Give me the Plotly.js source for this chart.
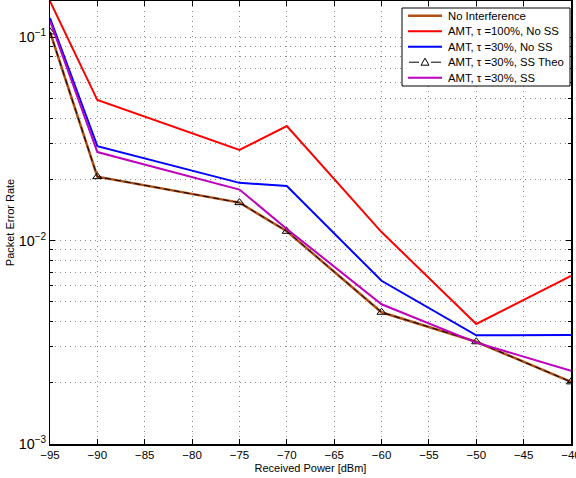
<!DOCTYPE html>
<html>
<head>
<meta charset="utf-8">
<script src="https://cdn.plot.ly/plotly-3.0.1.min.js"></script>
<style>html,body{margin:0;padding:0;background:#fff;}#chart{width:576px;height:478px;}</style>
</head>
<body>
<div id="chart"></div>
<script>
// Data
const power = [-95, -90, -75, -70, -60, -50, -40];
const noInterference = [0.106, 0.0206, 0.01535, 0.0111, 0.00444, 0.00318, 0.00202];
const amt100NoSS = [0.150, 0.049, 0.0279, 0.0365, 0.0110, 0.00389, 0.0067];
const amt30NoSS = [0.124, 0.0291, 0.0192, 0.01854, 0.00634, 0.00342, 0.00343];
const amt30SSTheo = [0.106, 0.0206, 0.01535, 0.0111, 0.00444, 0.00318, 0.00202];
const amt30SS = [0.120, 0.0272, 0.0178, 0.0114, 0.00486, 0.00315, 0.00229];
const seriesNames = ['No Interference', 'AMT, \u03c4 =100%, No SS', 'AMT, \u03c4 =30%, No SS', 'AMT, \u03c4 =30%, SS Theo', 'AMT, \u03c4 =30%, SS'];
const xTitle = 'Received Power [dBm]';
const yTitle = 'Packet Error Rate';

const colors = ['rgb(178,80,20)', 'rgb(255,0,0)', 'rgb(0,0,255)', 'black', 'rgb(190,0,190)'];
const widths = [2.5, 2, 2, 1, 2];

const traces = [
  {x: power, y: noInterference, name: seriesNames[0], mode: 'lines', line: {color: colors[0], width: widths[0]}},
  {x: power, y: amt100NoSS, name: seriesNames[1], mode: 'lines', line: {color: colors[1], width: widths[1]}},
  {x: power, y: amt30NoSS, name: seriesNames[2], mode: 'lines', line: {color: colors[2], width: widths[2]}},
  {x: power, y: amt30SSTheo, name: seriesNames[3], mode: 'lines+markers', line: {color: colors[3], width: widths[3], dash: '6px,4px'},
   marker: {symbol: 'triangle-up-open', size: 8, color: 'black', line: {width: 1}}},
  {x: power, y: amt30SS, name: seriesNames[4], mode: 'lines', line: {color: colors[4], width: widths[4]}}
];

// Custom legend (compact, like the reference)
const plotL = 50, plotR = 571, plotT = 1, plotB = 444;
const px = v => (v - plotL) / (plotR - plotL);
const py = v => (plotB - v) / (plotB - plotT);
const shapes = [];
const annotations = [];
shapes.push({type: 'rect', xref: 'paper', yref: 'paper', x0: px(402), x1: px(570), y0: py(86), y1: py(8),
  line: {color: 'black', width: 1}, fillcolor: 'white', layer: 'above'});
const rowY = [15.7, 31.2, 46.7, 62.2, 77.7];
seriesNames.forEach((nm, i) => {
  const yc = rowY[i];
  if (i === 3) {
    shapes.push({type: 'line', xref: 'paper', yref: 'paper', x0: px(409), x1: px(419), y0: py(yc), y1: py(yc),
      line: {color: 'black', width: 1}, layer: 'above'});
    shapes.push({type: 'line', xref: 'paper', yref: 'paper', x0: px(431), x1: px(441), y0: py(yc), y1: py(yc),
      line: {color: 'black', width: 1}, layer: 'above'});
    const path = 'M ' + px(421) + ' ' + py(yc + 3) + ' L ' + px(429) + ' ' + py(yc + 3) + ' L ' + px(425) + ' ' + py(yc - 4) + ' Z';
    shapes.push({type: 'path', xref: 'paper', yref: 'paper', path: path, line: {color: 'black', width: 1}, layer: 'above'});
  } else {
    shapes.push({type: 'line', xref: 'paper', yref: 'paper', x0: px(408), x1: px(442), y0: py(yc), y1: py(yc),
      line: {color: colors[i], width: widths[i]}, layer: 'above'});
  }
  annotations.push({xref: 'paper', yref: 'paper', x: px(446), y: py(yc), xanchor: 'left', yanchor: 'middle',
    text: nm, showarrow: false, font: {size: 11.3, color: 'black'}});
});

const fontFam = 'Liberation Sans, Arial, sans-serif';
const gridCol = '#8a8a8a';
const layout = {
  width: 576, height: 478,
  margin: {l: 50, r: 5, t: 1, b: 34},
  paper_bgcolor: 'white', plot_bgcolor: 'white',
  font: {family: fontFam, size: 11, color: 'black'},
  showlegend: false,
  shapes: shapes,
  annotations: annotations,
  xaxis: {
    range: [-95, -40], dtick: 5, tick0: -95,
    ticks: 'inside', ticklen: 5, tickcolor: 'black', tickwidth: 1,
    showline: true, linecolor: 'black', linewidth: 1.5, mirror: 'ticks',
    showgrid: true, gridcolor: gridCol, griddash: '1px,4px', gridwidth: 1,
    zeroline: false, ticklabeloverflow: 'allow',
    title: {text: xTitle, font: {size: 11}, standoff: 4},
    tickfont: {size: 11.5}
  },
  yaxis: {
    type: 'log', range: [-3, -0.823], dtick: 1,
    exponentformat: 'power',
    ticks: 'inside', ticklen: 5, tickcolor: 'black', tickwidth: 1,
    showline: true, linecolor: 'black', linewidth: 1.5, mirror: 'ticks',
    showgrid: true, gridcolor: gridCol, griddash: '1px,4px', gridwidth: 1,
    minor: {dtick: 'D1', showgrid: true, gridcolor: gridCol, griddash: '1px,4px', gridwidth: 1, ticks: 'inside', ticklen: 3, tickcolor: 'black'},
    zeroline: false,
    title: {text: yTitle, font: {size: 11}, standoff: 2},
    tickfont: {size: 11.5}
  }
};

Plotly.newPlot('chart', traces, layout, {displayModeBar: false, staticPlot: true});
</script>
</body>
</html>
